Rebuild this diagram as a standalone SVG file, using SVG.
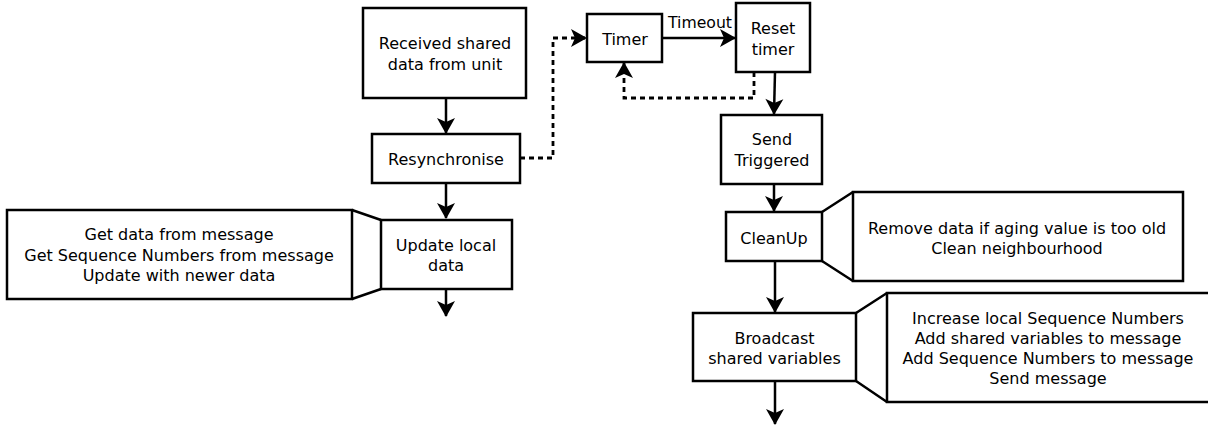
<svg xmlns="http://www.w3.org/2000/svg" width="1208" height="428" viewBox="0 0 1208 428">
<style>
.box{fill:#fff;stroke:#000;stroke-width:2.5}
.t{font-family:"DejaVu Sans",sans-serif;font-size:16px;fill:#000;text-anchor:middle}
.c{fill:none;stroke:#000;stroke-width:2.5}
.d{fill:none;stroke:#000;stroke-width:2.8;stroke-dasharray:5,4}
</style>
<defs>
<marker id="ah" markerUnits="userSpaceOnUse" markerWidth="22" markerHeight="22" viewBox="-17 -11 19 22" refX="0" refY="0" orient="auto">
<path d="M1,0 L-15,-9 L-11,0 L-15,9 Z" fill="#000"/>
</marker>
</defs>
<g id="connectors">
<path class="c" d="M446,98 V133" marker-end="url(#ah)"/>
<path class="c" d="M446,183 V218" marker-end="url(#ah)"/>
<path class="c" d="M446,289 V316" marker-end="url(#ah)"/>
<path class="d" d="M520,158 H553 V38 H586" marker-end="url(#ah)"/>
<path class="c" d="M662,38 H735" marker-end="url(#ah)"/>
<path class="d" d="M754,72 V98 H624 V63" marker-end="url(#ah)"/>
<path class="c" d="M775,72 L774,114" marker-end="url(#ah)"/>
<path class="c" d="M774,184 V211" marker-end="url(#ah)"/>
<path class="c" d="M775,261 V312" marker-end="url(#ah)"/>
<path class="c" d="M775,381 V424" marker-end="url(#ah)"/>
<text class="t" x="700" y="27.5" textLength="64" lengthAdjust="spacingAndGlyphs">Timeout</text>
</g>
<g id="received">
<rect class="box" x="363" y="8" width="163" height="90"/>
<text class="t" x="445" y="49">Received shared</text>
<text class="t" x="445" y="70">data from unit</text>
</g>
<g id="resync">
<rect class="box" x="372" y="134" width="148" height="49"/>
<text class="t" x="446" y="164.5">Resynchronise</text>
</g>
<g id="update">
<rect class="box" x="381" y="220" width="131" height="69"/>
<text class="t" x="446" y="250.5">Update local</text>
<text class="t" x="446" y="270.5">data</text>
</g>
<g id="update-note">
<path class="c" d="M352,210 L381,220 M352,299 L381,289"/>
<rect class="box" x="7" y="210" width="345" height="89"/>
<text class="t" x="179" y="239.5">Get data from message</text>
<text class="t" x="179" y="260.5">Get Sequence Numbers from message</text>
<text class="t" x="179" y="280.5">Update with newer data</text>
</g>
<g id="timer">
<rect class="box" x="587" y="14" width="75" height="48"/>
<text class="t" x="625" y="44.5">Timer</text>
</g>
<g id="reset">
<rect class="box" x="736" y="3" width="74" height="69"/>
<text class="t" x="773" y="33.5">Reset</text>
<text class="t" x="773" y="54.5">timer</text>
</g>
<g id="send">
<rect class="box" x="721" y="115" width="101" height="69"/>
<text class="t" x="772" y="144.5">Send</text>
<text class="t" x="772" y="165.5">Triggered</text>
</g>
<g id="cleanup">
<rect class="box" x="726" y="212" width="96" height="49"/>
<text class="t" x="774" y="243.5">CleanUp</text>
</g>
<g id="cleanup-note">
<path class="c" d="M822,212 L853,192 M822,261 L853,281"/>
<rect class="box" x="853" y="192" width="330" height="89"/>
<text class="t" x="1017" y="233.5">Remove data if aging value is too old</text>
<text class="t" x="1017" y="253.5">Clean neighbourhood</text>
</g>
<g id="broadcast">
<rect class="box" x="693" y="313" width="163" height="68"/>
<text class="t" x="774.5" y="343.5">Broadcast</text>
<text class="t" x="774.5" y="363.5">shared variables</text>
</g>
<g id="broadcast-note">
<path class="c" d="M856,313 L887,293 M856,381 L887,402"/>
<rect class="box" x="887" y="293" width="330" height="109"/>
<text class="t" x="1048" y="323.5">Increase local Sequence Numbers</text>
<text class="t" x="1048" y="343.5">Add shared variables to message</text>
<text class="t" x="1048" y="363.5">Add Sequence Numbers to message</text>
<text class="t" x="1048" y="383.5">Send message</text>
</g>
</svg>
